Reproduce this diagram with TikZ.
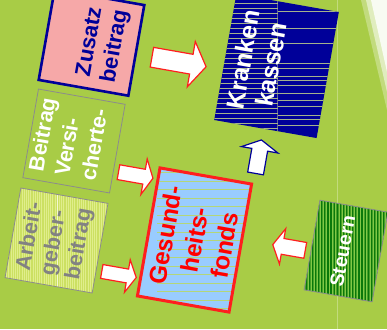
\documentclass[tikz,border=0pt]{standalone}
\usepackage{fontspec}
\setmainfont{Liberation Sans}
\definecolor{bg}{RGB}{168,204,70}
\definecolor{navy}{RGB}{0,0,153}
\definecolor{pinkf}{RGB}{246,168,168}
\definecolor{redc}{RGB}{255,30,30}
\definecolor{bluef}{RGB}{153,204,255}
\definecolor{graytxt}{RGB}{130,130,130}
\definecolor{grayline}{RGB}{140,140,140}
\definecolor{agfill}{RGB}{204,224,98}
\definecolor{aglight}{RGB}{224,238,140}
\definecolor{stfill}{RGB}{70,160,40}
\definecolor{stdark}{RGB}{10,120,10}
\definecolor{stlight}{RGB}{130,200,70}
\definecolor{gfline}{RGB}{180,214,120}
\definecolor{kkline}{RGB}{165,178,140}
\newcommand{\blockarr}[7]{%
  \draw[#7, shift={(#1)}, rotate=#2]
    ({-#3/2},{-#4/2}) -- ({#3/2-#6},{-#4/2}) -- ({#3/2-#6},{-#5/2}) --
    ({#3/2},0) -- ({#3/2-#6},{#5/2}) -- ({#3/2-#6},{#4/2}) --
    ({-#3/2},{#4/2}) -- cycle;}
\begin{document}
\begin{tikzpicture}[x=1pt,y=-1pt,
  box/.style={rotate=80, inner sep=0pt, outer sep=0pt},
  lbl/.style={rotate=80, inner sep=0pt, outer sep=0pt},
  redarrow/.style={fill=white, draw=redc, line width=1.2pt, line join=miter},
  bluearrow/.style={fill=white, draw=navy, line width=1.2pt, line join=miter}]
\useasboundingbox (0,0) rectangle (387,329);
\fill[bg] (0,0) rectangle (387,329);
% light streak top right and faint line
\fill[white, opacity=0.3] (361,0) -- (387,0) -- (387,110) -- cycle;
\fill[white, opacity=0.5] (366,0) -- (387,0) -- (387,92) -- cycle;
\fill[white, opacity=0.8] (371,0) -- (387,0) -- (387,72) -- cycle;
\draw[white, opacity=0.3, line width=0.7pt] (337.7,0) -- (337.7,329);

% Zusatzbeitrag
\node[box, minimum width=92pt, minimum height=91pt, fill=pinkf] (zb) at (91.5,42.5) {};
\draw[navy, line width=2.6pt] (zb.north west) -- (zb.north east) -- (zb.south east) -- (zb.south west) -- cycle;
\node[lbl, align=center, text=navy, font=\fontsize{22}{25.5}\selectfont\bfseries] (tzb) at (103,44) {Zusatz\\beitrag};

% Beitrag Versicherte
\node[box, minimum width=90pt, minimum height=88pt, fill=bg, draw=grayline, line width=0.8pt] (bv) at (74,141) {};
\node[lbl, align=left, text=white, font=\fontsize{21.5}{26.5}\selectfont\bfseries] (tbv) at (68,139) {Beitrag\\Versi-\\cherte-};

% Arbeitgeberbeitrag
\node[box, minimum width=91pt, minimum height=88.5pt, fill=agfill] (ag) at (56.5,240.5) {};
\begin{scope}
  \clip (ag.north west) -- (ag.north east) -- (ag.south east) -- (ag.south west) -- cycle;
  \foreach \xx in {0,2.2,...,110} \draw[aglight, line width=0.8pt] (\xx,180) -- (\xx,300);
  \draw[white, opacity=0.6, line width=0.8pt] (57,180) -- (57,300);
\end{scope}
\draw[grayline, line width=0.8pt] (ag.north west) -- (ag.north east) -- (ag.south east) -- (ag.south west) -- cycle;
\node[lbl, align=left, text=graytxt, font=\fontsize{21.5}{25}\selectfont\bfseries] (tag) at (55,240) {Arbeit-\\geber-\\beitrag};

% Gesundheitsfonds
\node[box, minimum width=130pt, minimum height=93pt, fill=bluef] (gf) at (194.5,240) {};
\begin{scope}
  \clip (gf.north west) -- (gf.north east) -- (gf.south east) -- (gf.south west) -- cycle;
  \clip (157,150) rectangle (270,330);
  \foreach \yy in {164,172.5,...,318} \draw[gfline, line width=0.8pt] (130,\yy) -- (270,\yy);
\end{scope}
\draw[redc, line width=3pt] (gf.north west) -- (gf.north east) -- (gf.south east) -- (gf.south west) -- cycle;
\node[lbl, align=center, text=red, font=\fontsize{24.5}{30}\selectfont\bfseries] (tgf) at (195,240) {Gesund-\\heits-\\fonds};

% Krankenkassen
\node[box, minimum width=128pt, minimum height=104pt, fill=navy] (kk) at (276.5,66) {};
\begin{scope}
  \clip (kk.north west) -- (kk.north east) -- (kk.south east) -- (kk.south west) -- cycle;
  \foreach \yy in {3,8,...,130} \draw[kkline, line width=0.6pt] (200,\yy) -- (278,\yy);
  \foreach \yy in {11.7,28.3,43.3,63.3,68.3,76.7,80,85,93.3,100,106.7,115,119,125}
    \draw[kkline, line width=0.6pt] (278,\yy) -- (345,\yy);
  \draw[kkline, opacity=0.6, line width=0.6pt] (277.7,0) -- (277.7,140);
\end{scope}
\node[lbl, align=center, text=white, font=\fontsize{25}{28.5}\selectfont\bfseries] (tkk) at (257,62) {Kranken\\kassen};

% Steuern
\node[box, minimum width=91pt, minimum height=69pt, fill=stfill] (st) at (346,251) {};
\begin{scope}
  \clip (st.north west) -- (st.north east) -- (st.south east) -- (st.south west) -- cycle;
  \foreach \xx in {300,303.1,...,390} {
    \draw[stdark, line width=1.2pt] (\xx,200) -- (\xx,310);
    \draw[stlight, line width=0.6pt] (\xx+1.6,200) -- (\xx+1.6,310);
  }
\end{scope}
\draw[grayline, line width=0.8pt] (st.north west) -- (st.north east) -- (st.south east) -- (st.south west) -- cycle;
\node[lbl, text=white, font=\fontsize{19.5}{23}\selectfont\bfseries] (tst) at (342.5,251) {Steuern};

% block arrows
\blockarr{179,62}{-10}{55}{20}{46}{15}{redarrow}
\blockarr{135.7,175.2}{-10}{35}{15}{36}{9}{redarrow}
\blockarr{119,274.5}{-10}{35}{14}{33}{9}{redarrow}
\blockarr{289,247.5}{170}{33}{16}{36}{10}{redarrow}
\blockarr{258.5,156.7}{80}{34}{16}{37}{10}{bluearrow}
\end{tikzpicture}
\end{document}
